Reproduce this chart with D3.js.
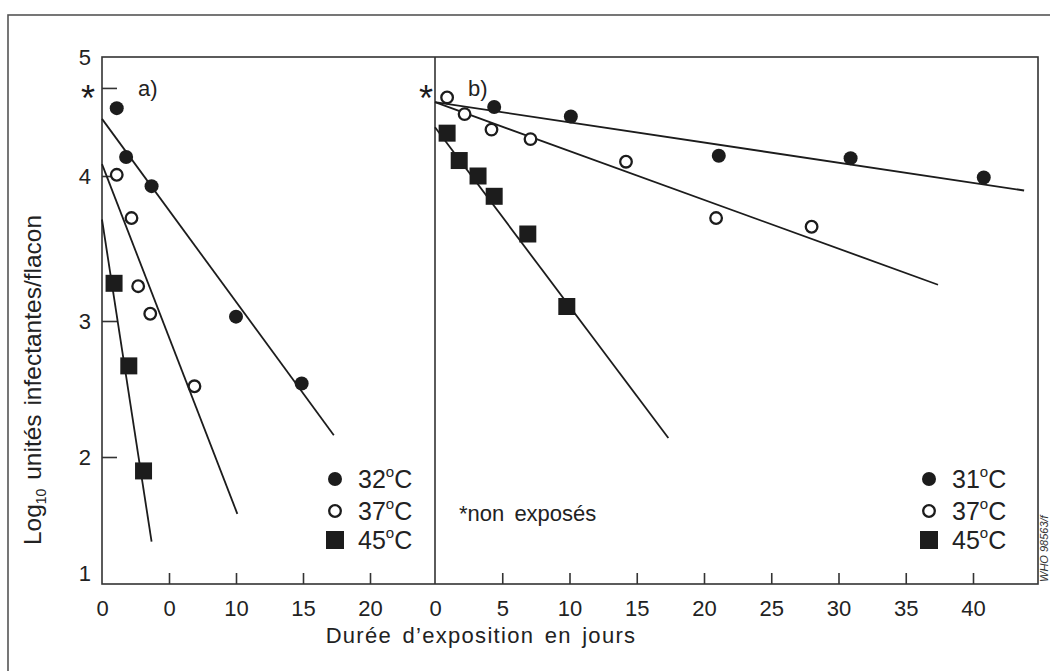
<!DOCTYPE html>
<html>
<head>
<meta charset="utf-8">
<script src="https://cdn.jsdelivr.net/npm/d3@7"></script>
<style>
  html, body { margin: 0; padding: 0; background: #fff; overflow: hidden; }
  svg { display: block; font-family: "Liberation Sans", Arial, sans-serif; }
</style>
</head>
<body>
<svg id="chart" width="1050" height="671"></svg>
<script>
// ---- data ----
const yTickValues = [1, 2, 3, 4, 5];
const yTickLabels = ["1", "2", "3", "4", "5"];
const unexposedLevel = 4.74;           // level of the non-exposed control (*)

const xTicksA = [0, 5, 10, 15, 20];
const xLabelsA = ["0", "0", "10", "15", "20"];
const xTicksB = [0, 5, 10, 15, 20, 25, 30, 35, 40];
const xLabelsB = ["0", "5", "10", "15", "20", "25", "30", "35", "40"];

// panel a) observations
const daysA32 = [1.1, 1.8, 3.7, 10.0, 14.9];
const logA32  = [4.57, 4.16, 3.93, 3.03, 2.54];
const daysA37 = [1.1, 2.2, 2.7, 3.6, 6.9];
const logA37  = [4.01, 3.71, 3.24, 3.05, 2.52];
const daysA45 = [0.9, 2.0, 3.1];
const logA45  = [3.26, 2.67, 1.88];

// panel a) regression lines (start, end)
const fitDaysA32 = [0, 17.3];  const fitLogA32 = [4.48, 2.16];
const fitDaysA37 = [0, 10.1];  const fitLogA37 = [4.10, 1.51];
const fitDaysA45 = [0, 3.7];   const fitLogA45 = [3.70, 1.27];

// panel b) observations
const daysB31 = [4.4, 10.1, 21.1, 30.9, 40.8];
const logB31  = [4.58, 4.50, 4.17, 4.15, 3.99];
const daysB37 = [0.9, 2.2, 4.2, 7.1, 14.2, 20.9, 28.0];
const logB37  = [4.66, 4.52, 4.39, 4.31, 4.12, 3.71, 3.65];
const daysB45 = [0.9, 1.8, 3.2, 4.4, 6.9, 9.8];
const logB45  = [4.36, 4.13, 4.00, 3.86, 3.60, 3.10];

// panel b) regression lines (start, end)
const fitDaysB31 = [0, 43.8];  const fitLogB31 = [4.62, 3.90];
const fitDaysB37 = [0, 37.4];  const fitLogB37 = [4.62, 3.25];
const fitDaysB45 = [0, 17.35]; const fitLogB45 = [4.41, 2.14];

const legendA = ["32", "37", "45"];
const legendB = ["31", "37", "45"];

// ---- layout ----
const svg = d3.select("#chart");
const ink = "#1c1c1c";
const textInk = "#222";
const boxTop = 57, boxBottom = 584, boxLeft = 102, boxRight = 1038;

const y = d3.scaleLinear().domain(yTickValues).range([573, 457, 321, 176, 57]);
const xA = d3.scaleLinear().domain([0, 20]).range([102, 370]);
const xB = d3.scaleLinear().domain([0, 40]).range([435, 973]);

// outer frame
svg.append("rect").attr("x", 8).attr("y", 15).attr("width", 1100).attr("height", 700)
  .attr("fill", "none").attr("stroke", "#555").attr("stroke-width", 1.6);

// plot box and panel divider
svg.append("rect").attr("x", boxLeft).attr("y", boxTop)
  .attr("width", boxRight - boxLeft).attr("height", boxBottom - boxTop)
  .attr("fill", "none").attr("stroke", "#333").attr("stroke-width", 1.6);
svg.append("line").attr("x1", xB(0)).attr("x2", xB(0)).attr("y1", boxTop).attr("y2", boxBottom)
  .attr("stroke", "#333").attr("stroke-width", 1.6);

// y axis labels
const yLab = svg.append("g").attr("transform", `translate(${boxLeft},0)`)
  .call(d3.axisLeft(y).tickValues(yTickValues).tickSize(0).tickPadding(11)
    .tickFormat((d, i) => yTickLabels[i]));
// inner y ticks
const yIn = svg.append("g").attr("transform", `translate(${boxLeft},0)`)
  .call(d3.axisRight(y).tickValues([2, 3, 4, unexposedLevel]).tickSize(15).tickFormat(""));

// x axes: labels below, ticks pointing inward
const xLabA = svg.append("g").attr("transform", `translate(0,${boxBottom})`)
  .call(d3.axisBottom(xA).tickValues(xTicksA).tickSize(0).tickPadding(16)
    .tickFormat((d, i) => xLabelsA[i]));
const xInA = svg.append("g").attr("transform", `translate(0,${boxBottom})`)
  .call(d3.axisTop(xA).tickValues(xTicksA.slice(1)).tickSize(11).tickFormat(""));
const xLabB = svg.append("g").attr("transform", `translate(0,${boxBottom})`)
  .call(d3.axisBottom(xB).tickValues(xTicksB).tickSize(0).tickPadding(16)
    .tickFormat((d, i) => xLabelsB[i]));
const xInB = svg.append("g").attr("transform", `translate(0,${boxBottom})`)
  .call(d3.axisTop(xB).tickValues(xTicksB.slice(1)).tickSize(11).tickFormat(""));

[yLab, yIn, xLabA, xInA, xLabB, xInB].forEach(g => {
  g.select(".domain").remove();
  g.selectAll("line").attr("stroke", "#333").attr("stroke-width", 1.6);
  g.selectAll("text").attr("font-size", 22).attr("fill", textInk)
    .attr("font-family", "'Liberation Sans', Arial, sans-serif");
});

// axis titles
svg.append("text").attr("x", 481).attr("y", 643).attr("text-anchor", "middle")
  .attr("font-size", 22).attr("fill", textInk).attr("letter-spacing", 1.3).attr("word-spacing", 3)
  .text("Durée d’exposition en jours");

const yTitle = svg.append("text").attr("transform", "translate(41,380) rotate(-90)")
  .attr("text-anchor", "middle").attr("font-size", 24.5).attr("fill", textInk);
yTitle.append("tspan").text("Log");
yTitle.append("tspan").attr("font-size", 14).attr("dy", 5).text("10");
yTitle.append("tspan").attr("dy", -5).attr("word-spacing", 2).text(" unités infectantes/flacon");

// panel tags and control markers
svg.append("text").attr("x", 138).attr("y", 88).attr("dy", "0.35em")
  .attr("font-size", 22).attr("fill", textInk).text("a)");
svg.append("text").attr("x", 468).attr("y", 88).attr("dy", "0.35em")
  .attr("font-size", 22).attr("fill", textInk).text("b)");
[boxLeft - 14, xB(0) - 9].forEach(cx => {
  svg.append("text").attr("x", cx).attr("y", y(unexposedLevel) + 23)
    .attr("text-anchor", "middle").attr("font-size", 36)
    .attr("fill", ink).text("*");
});

// regression lines
const lineOf = (xs, days, logs) => d3.line().x(i => xs(days[i])).y(i => y(logs[i]))(d3.range(days.length));
const fits = [
  [xA, fitDaysA32, fitLogA32], [xA, fitDaysA37, fitLogA37], [xA, fitDaysA45, fitLogA45],
  [xB, fitDaysB31, fitLogB31], [xB, fitDaysB37, fitLogB37], [xB, fitDaysB45, fitLogB45]
];
fits.forEach(([xs, d, l]) => {
  svg.append("path").attr("d", lineOf(xs, d, l)).attr("fill", "none")
    .attr("stroke", ink).attr("stroke-width", 1.8);
});

// markers
function filled(g, cx, cy) {
  g.append("circle").attr("cx", cx).attr("cy", cy).attr("r", 7).attr("fill", ink);
}
function open(g, cx, cy) {
  g.append("circle").attr("cx", cx).attr("cy", cy).attr("r", 5.8)
    .attr("fill", "#fff").attr("stroke", ink).attr("stroke-width", 2.3);
}
function square(g, cx, cy) {
  g.append("rect").attr("x", cx - 8.5).attr("y", cy - 8.5).attr("width", 17).attr("height", 17).attr("fill", ink);
}
const marks = svg.append("g");
daysA32.forEach((d, i) => filled(marks, xA(d), y(logA32[i])));
daysA37.forEach((d, i) => open(marks, xA(d), y(logA37[i])));
daysA45.forEach((d, i) => square(marks, xA(d), y(logA45[i])));
daysB31.forEach((d, i) => filled(marks, xB(d), y(logB31[i])));
daysB37.forEach((d, i) => open(marks, xB(d), y(logB37[i])));
daysB45.forEach((d, i) => square(marks, xB(d), y(logB45[i])));

// legends
function legend(x0, labels) {
  const rows = [479, 511, 540];
  const g = svg.append("g");
  filled(g, x0, rows[0]);
  open(g, x0, rows[1]);
  g.append("rect").attr("x", x0 - 9).attr("y", rows[2] - 9).attr("width", 18).attr("height", 18).attr("fill", ink);
  labels.forEach((t, i) => {
    const txt = g.append("text").attr("x", x0 + 23).attr("y", rows[i]).attr("dy", "0.36em")
      .attr("font-size", 25).attr("fill", textInk);
    txt.append("tspan").text(t);
    txt.append("tspan").attr("font-size", 15).attr("dy", "-0.75em").text("o");
    txt.append("tspan").attr("dy", "0.45em").text("C");
  });
}
legend(335, legendA);
legend(929, legendB);

svg.append("text").attr("x", 459).attr("y", 513).attr("dy", "0.36em")
  .attr("font-size", 22).attr("fill", textInk).attr("word-spacing", 4).text("*non exposés");

// figure reference number along the right edge
svg.append("text").attr("transform", "translate(1048,582) rotate(-90)")
  .attr("font-size", 11).attr("font-style", "italic").attr("fill", "#333")
  .text("WHO 98563/f");
</script>
</body>
</html>
